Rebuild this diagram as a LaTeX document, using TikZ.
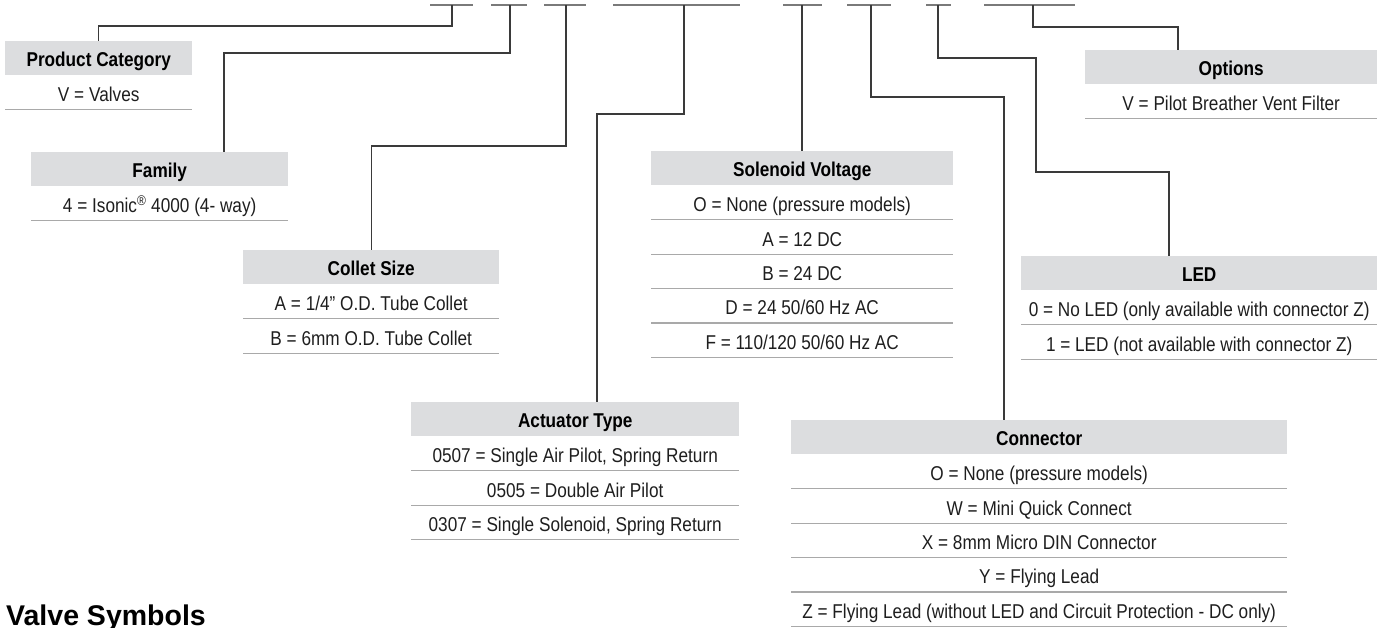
\documentclass[tikz,border=0pt]{standalone}
\usepackage{fontspec}
\setmainfont{Liberation Sans}[FakeStretch=0.86]
\newfontfamily\widesans{Liberation Sans}
\usetikzlibrary{calc}
\definecolor{hdrgray}{HTML}{DCDDDF}
\definecolor{rulegray}{HTML}{A9A9A9}
\definecolor{slotgray}{HTML}{7A7A7A}
\definecolor{linegray}{HTML}{3A3A3A}
\definecolor{txt}{HTML}{1E1E1E}
\tikzset{
  hdr/.style={fill=hdrgray, minimum height=34pt, inner sep=0pt, anchor=north west,
    font=\fontsize{20}{21}\selectfont\bfseries, text height=16pt, text depth=0pt},
  row/.style={minimum height=34pt, inner sep=0pt, anchor=north,
    font=\fontsize{20}{21}\selectfont, text=txt, text height=18pt, text depth=0pt},
  rule/.style={draw=rulegray, line width=1.3pt},
  conn/.style={draw=linegray, line width=1.1pt},
  slot/.style={draw=slotgray, line width=1.6pt},
}
\begin{document}
\begin{tikzpicture}[x=1pt,y=-1pt]
\useasboundingbox (0,0) rectangle (1377,627);

% top slots
\draw[slot] (430,5) -- (473,5);
\draw[slot] (491,5) -- (527,5);
\draw[slot] (544,5) -- (586,5);
\draw[slot] (613,5) -- (740,5);
\draw[slot] (783,5) -- (822,5);
\draw[slot] (847,5) -- (891,5);
\draw[slot] (926,5) -- (951,5);
\draw[slot] (984,5) -- (1075,5);
\coordinate (s1) at (452,5);
\coordinate (s2) at (510,5);
\coordinate (s3) at (566,5);
\coordinate (s4) at (684,5);
\coordinate (s5) at (802,5);
\coordinate (s6) at (871,5);
\coordinate (s7) at (938,5);
\coordinate (s8) at (1033,5);

% Product Category
\node[hdr, minimum width=187pt] (pc) at (5,41) {Product Category};
\node[row, minimum width=187pt] (pc1) at (pc.south) {V = Valves};
\draw[rule] (pc1.south west) -- (pc1.south east);

% Family
\node[hdr, minimum width=257pt] (fam) at (31,152) {Family};
\node[row, minimum width=257pt] (fam1) at (fam.south) {4 = Isonic\textsuperscript{®} 4000 (4- way)};
\draw[rule] (fam1.south west) -- (fam1.south east);

% Collet Size
\node[hdr, minimum width=256pt] (col) at (243,250) {Collet Size};
\node[row, minimum width=256pt] (col1) at (col.south) {A = 1/4” O.D. Tube Collet};
\node[row, minimum width=256pt] (col2) at (col1.south) {B = 6mm O.D. Tube Collet};
\foreach \r in {col1,col2} \draw[rule] (\r.south west) -- (\r.south east);

% Actuator Type
\node[hdr, minimum width=328pt] (act) at (411,402) {Actuator Type};
\node[row, minimum width=328pt] (act1) at (act.south) {0507 = Single Air Pilot, Spring Return};
\node[row, minimum width=328pt] (act2) at (act1.south) {0505 = Double Air Pilot};
\node[row, minimum width=328pt] (act3) at (act2.south) {0307 = Single Solenoid, Spring Return};
\foreach \r in {act1,act2,act3} \draw[rule] (\r.south west) -- (\r.south east);

% Solenoid Voltage
\node[hdr, minimum width=302pt] (sol) at (651,151) {Solenoid Voltage};
\node[row, minimum width=302pt] (sol1) at (sol.south) {O = None (pressure models)};
\node[row, minimum width=302pt] (sol2) at (sol1.south) {A = 12 DC};
\node[row, minimum width=302pt] (sol3) at (sol2.south) {B = 24 DC};
\node[row, minimum width=302pt] (sol4) at (sol3.south) {D = 24 50/60 Hz AC};
\node[row, minimum width=302pt] (sol5) at (sol4.south) {F = 110/120 50/60 Hz AC};
\foreach \r in {sol1,sol2,sol3,sol4,sol5} \draw[rule] (\r.south west) -- (\r.south east);

% Connector
\node[hdr, minimum width=496pt] (con) at (791,420) {Connector};
\node[row, minimum width=496pt] (con1) at (con.south) {O = None (pressure models)};
\node[row, minimum width=496pt] (con2) at (con1.south) {W = Mini Quick Connect};
\node[row, minimum width=496pt] (con3) at (con2.south) {X = 8mm Micro DIN Connector};
\node[row, minimum width=496pt] (con4) at (con3.south) {Y = Flying Lead};
\node[row, minimum width=496pt] (con5) at (con4.south) {Z = Flying Lead (without LED and Circuit Protection - DC only)};
\foreach \r in {con1,con2,con3,con4,con5} \draw[rule] (\r.south west) -- (\r.south east);

% LED
\node[hdr, minimum width=356pt] (led) at (1021,256) {LED};
\node[row, minimum width=356pt] (led1) at (led.south) {0 = No LED (only available with connector Z)};
\node[row, minimum width=356pt] (led2) at (led1.south) {1 = LED (not available with connector Z)};
\foreach \r in {led1,led2} \draw[rule] (\r.south west) -- (\r.south east);

% Options
\node[hdr, minimum width=292pt] (opt) at (1085,50) {Options};
\node[row, minimum width=292pt] (opt1) at (opt.south) {V = Pilot Breather Vent Filter};
\draw[rule] (opt1.south west) -- (opt1.south east);

% connectors
\draw[conn] (s1) -- ++(0,21) -| (pc.north);
\draw[conn] (s2) -- ++(0,48) -| ($(fam.north west)+(193,0)$);
\draw[conn] (s3) -- ++(0,141) -| (col.north);
\draw[conn] (s4) -- ++(0,109) -| ($(act.north west)+(186,0)$);
\draw[conn] (s5) -- (s5 |- sol.north);
\draw[conn] (s6) -- ++(0,92) -| ($(con.north west)+(213,0)$);
\draw[conn] (s7) -- ++(0,53) -| ++(98,114) -| ($(led.north west)+(148,0)$);
\draw[conn] (s8) -- ++(0,22) -| ($(opt.north west)+(93,0)$);

% title
\node[anchor=base west, inner sep=0pt, font=\widesans\fontsize{28.5}{30}\selectfont\bfseries] (vs) at (6,625) {Valve Symbols};
\end{tikzpicture}
\end{document}
